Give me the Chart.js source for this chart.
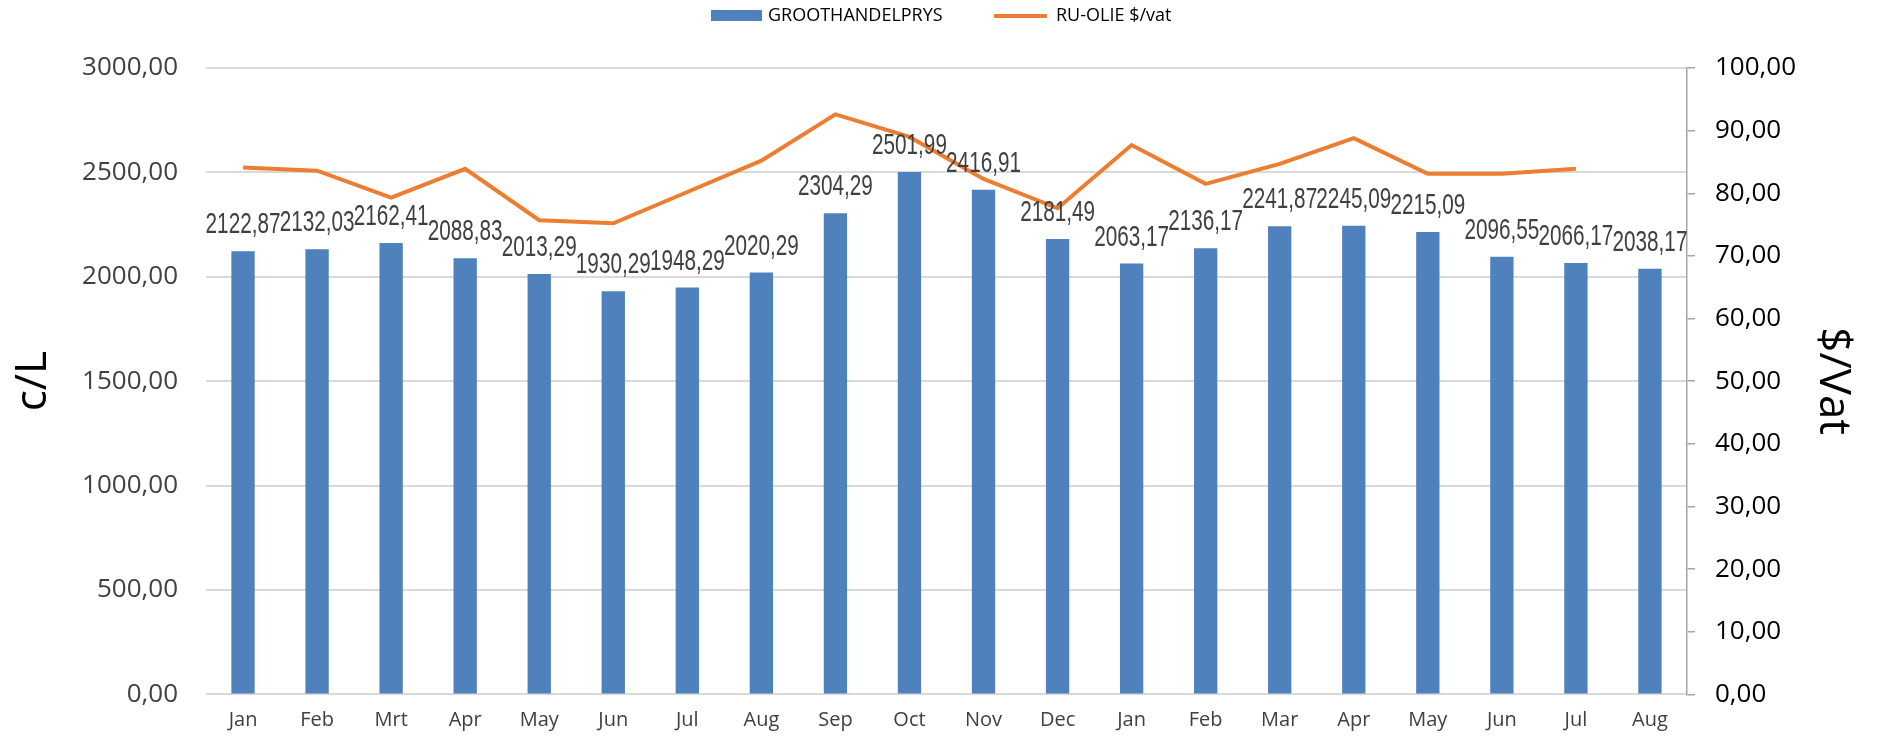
<!DOCTYPE html>
<html>
<head>
<meta charset="utf-8">
<script src="https://cdn.jsdelivr.net/npm/chart.js@4.4.1/dist/chart.umd.min.js"></script>
<style>
  html, body { margin: 0; padding: 0; background: #fff; }
  #wrap { width: 1877px; height: 738px; position: relative; }
</style>
</head>
<body>
<div id="wrap"><canvas id="priceChart" width="1877" height="738"></canvas></div>
<script>
// categories (months)
const months = ['Jan', 'Feb', 'Mrt', 'Apr', 'May', 'Jun', 'Jul', 'Aug', 'Sep', 'Oct', 'Nov', 'Dec',
                'Jan', 'Feb', 'Mar', 'Apr', 'May', 'Jun', 'Jul', 'Aug'];

// wholesale price c/L (bars)
const wholesale = [2122.87, 2132.03, 2162.41, 2088.83, 2013.29, 1930.29, 1948.29, 2020.29, 2304.29, 2501.99,
                   2416.91, 2181.49, 2063.17, 2136.17, 2241.87, 2245.09, 2215.09, 2096.55, 2066.17, 2038.17];

// crude oil $/barrel (line), no value for the last month
const crudeOil = [84.1, 83.6, 79.3, 83.9, 75.7, 75.2, 80.2, 85.2, 92.6, 89.0,
                  82.3, 77.6, 87.7, 81.5, 84.7, 88.8, 83.1, 83.1, 83.9, null];

const seriesNames = ['GROOTHANDELPRYS', 'RU-OLIE $/vat'];
const leftTitle = 'c/L';
const rightTitle = '$/Vat';

const barColor = '#4f81bd';
const lineColor = '#ed7d31';
const tickFont = { family: 'Open Sans', size: 26 };

function fmt(v) {
    return v.toFixed(2).replace('.', ',');
}

// bar value labels (narrow font look)
const barLabels = {
    id: 'barLabels',
    afterDatasetsDraw(chart) {
        const c = chart.ctx;
        const meta = chart.getDatasetMeta(1); // bar dataset
        c.save();
        c.font = '30px "Liberation Sans"';
        c.fillStyle = '#404040';
        c.textAlign = 'center';
        c.textBaseline = 'alphabetic';
        meta.data.forEach(function(bar, i) {
            c.save();
            c.translate(bar.x, bar.y - 18);
            c.scale(0.69, 1);
            c.fillText(fmt(wholesale[i]), 0, 0);
            c.restore();
        });
        c.restore();
    }
};

// legend on top
const topLegend = {
    id: 'topLegend',
    afterDraw(chart) {
        const c = chart.ctx;
        c.save();
        c.font = '18px "Open Sans"';
        c.textBaseline = 'middle';
        c.fillStyle = barColor;
        c.fillRect(711, 10, 51, 11);
        c.fillStyle = '#000';
        c.fillText(seriesNames[0], 768, 16);
        c.strokeStyle = lineColor;
        c.lineWidth = 4;
        c.beginPath();
        c.moveTo(994, 16);
        c.lineTo(1047, 16);
        c.stroke();
        c.fillText(seriesNames[1], 1056, 16);
        c.restore();
    }
};

const ctx = document.getElementById('priceChart').getContext('2d');
new Chart(ctx, {
    data: {
        labels: months,
        datasets: [{
            type: 'line',
            label: seriesNames[1],
            data: crudeOil,
            yAxisID: 'y1',
            borderColor: lineColor,
            borderWidth: 4,
            pointRadius: 0,
            tension: 0,
            order: 1
        }, {
            type: 'bar',
            label: seriesNames[0],
            data: wholesale,
            yAxisID: 'y',
            backgroundColor: barColor,
            barPercentage: 0.315,
            categoryPercentage: 1,
            order: 2
        }]
    },
    options: {
        responsive: false,
        animation: false,
        layout: { padding: { top: 68, bottom: 0, left: 0, right: 0 } },
        plugins: {
            legend: { display: false },
            tooltip: { enabled: false }
        },
        scales: {
            x: {
                grid: { display: false, drawTicks: false },
                border: { display: false },
                ticks: { color: '#404040', font: { family: 'Open Sans', size: 20 }, padding: 14, maxRotation: 0, autoSkip: false },
                afterFit: function(s) { s.height = 43.5; }
            },
            y: {
                position: 'left',
                min: 0,
                max: 3000,
                grid: { color: '#d9d9d9', lineWidth: 2, drawTicks: false },
                border: { display: false },
                ticks: { stepSize: 500, color: '#404040', font: tickFont, padding: 28,
                         callback: function(v) { return fmt(v); } },
                title: { display: true, text: leftTitle, color: '#000', font: { family: 'Open Sans', size: 44 }, padding: { top: 7, bottom: 0 } },
                afterFit: function(s) { s.width = 206; }
            },
            y1: {
                position: 'right',
                min: 0,
                max: 100,
                grid: { drawOnChartArea: false, color: '#a6a6a6', lineWidth: 1.5, tickLength: 8 },
                border: { color: '#a6a6a6', width: 1.5 },
                ticks: { stepSize: 10, color: '#000', font: tickFont, padding: 20,
                         callback: function(v) { return fmt(v); } },
                title: { display: true, text: rightTitle, color: '#000', font: { family: 'Open Sans', size: 44 }, padding: { top: 18, bottom: 0 } },
                afterFit: function(s) { s.width = 190; }
            }
        }
    },
    plugins: [barLabels, topLegend]
});
</script>
</body>
</html>
